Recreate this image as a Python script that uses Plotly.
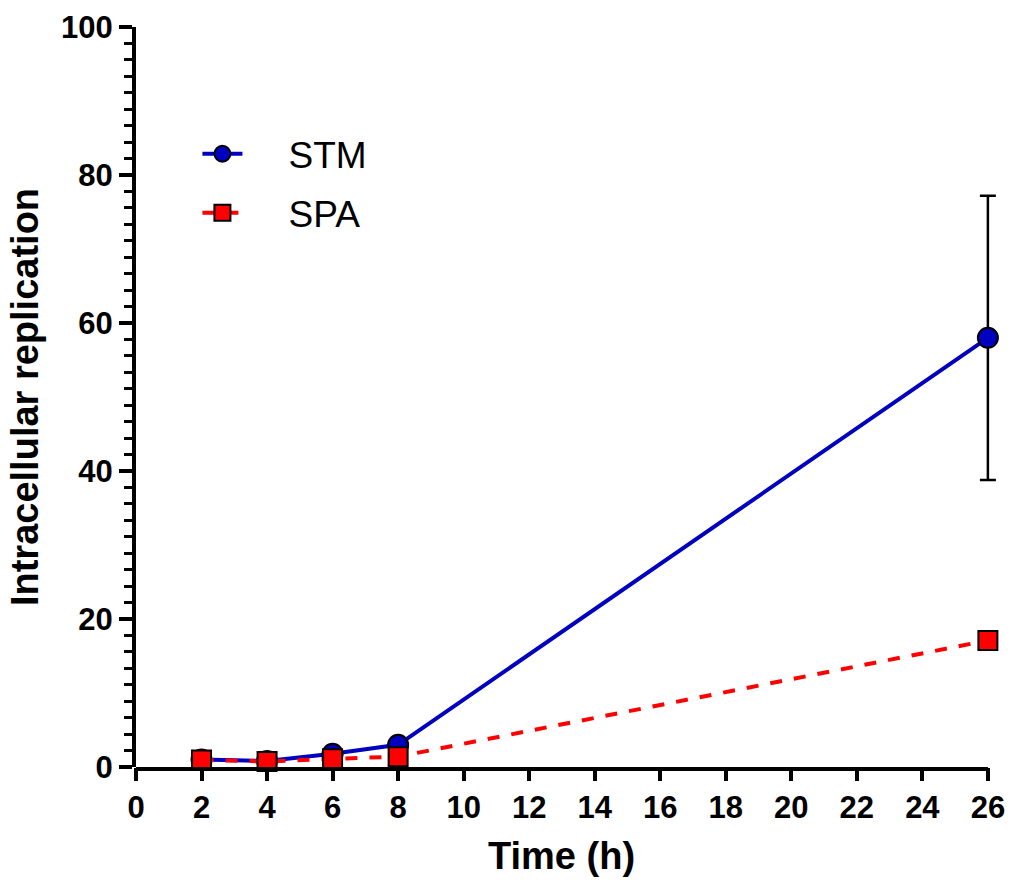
import plotly.graph_objects as go

time_h = [2, 4, 6, 8, 26]
stm = [1.0, 0.8, 1.8, 3.0, 58.0]
stm_err = [None, None, None, None, 19.2]
spa = [0.95, 0.75, 1.1, 1.4, 17.1]
x_ticks = list(range(0, 27, 2))
y_ticks = [0, 20, 40, 60, 80, 100]
x_axis_end = x_ticks[-1]

FONT = "Arial, Liberation Sans, sans-serif"
PAD = "\u00a0" * 4

fig = go.Figure()
fig.add_trace(go.Scatter(
    x=time_h, y=stm, name=PAD + "STM", mode="lines+markers", legendgroup="a",
    line=dict(color="#0000C0", width=4),
    marker=dict(symbol="circle", size=20, color="#0000C0", line=dict(color="black", width=2)),
    error_y=dict(type="data", array=stm_err, visible=True, color="black", thickness=2.5, width=8),
    cliponaxis=False,
))
fig.add_trace(go.Scatter(
    x=time_h, y=spa, name=PAD + "SPA", mode="lines+markers", legendgroup="b",
    line=dict(color="#FF0000", width=4, dash="dash"),
    marker=dict(symbol="square", size=19, color="#FF0000", line=dict(color="black", width=2)),
    cliponaxis=False,
))

# x axis line ending exactly at the last tick (range is padded so the error-bar cap is not clipped)
fig.add_shape(type="line", xref="x", yref="paper", ysizemode="pixel", yanchor=0,
              x0=0, x1=x_axis_end, y0=-2, y1=-2,
              line=dict(color="black", width=4), layer="above")

# x axis title centred under the drawn axis (0..26)
fig.add_annotation(text="<b>Time (h)</b>", xref="x", yref="paper",
                   x=x_axis_end / 2, y=0, xanchor="center", yanchor="top",
                   yshift=-66, showarrow=False,
                   font=dict(family=FONT, size=38, color="black"))

fig.update_layout(
    width=1011, height=884,
    margin=dict(l=136, r=10, t=27, b=117, autoexpand=False),
    plot_bgcolor="white", paper_bgcolor="white",
    showlegend=True,
    legend=dict(x=0.071, y=0.87, xanchor="left", yanchor="top",
                font=dict(family=FONT, size=37, color="black"),
                itemwidth=40, tracegroupgap=8, bgcolor="rgba(0,0,0,0)"),
    font=dict(family=FONT, color="black"),
)
fig.update_xaxes(
    range=[0, 26.4], tickvals=x_ticks, ticktext=[str(v) for v in x_ticks],
    showline=False, automargin=False,
    ticks="outside", ticklen=13, tickwidth=4, tickcolor="black",
    showgrid=False, zeroline=False,
    tickfont=dict(family=FONT, size=31, color="black", weight="bold"),
)
fig.update_yaxes(
    range=[0, 100], tickvals=y_ticks, ticktext=[str(v) for v in y_ticks],
    showline=True, linewidth=4, linecolor="black", automargin=False,
    ticks="outside", ticklen=13, tickwidth=4, tickcolor="black",
    showgrid=False, zeroline=False,
    minor=dict(dtick=20/9, tick0=0, ticks="outside", ticklen=8, tickwidth=3, tickcolor="black", showgrid=False),
    tickfont=dict(family=FONT, size=31, color="black", weight="bold"),
    title=dict(text="<b>Intracellular replication</b>", font=dict(family=FONT, size=38, color="black"), standoff=12),
)

fig.write_html("out.html")
